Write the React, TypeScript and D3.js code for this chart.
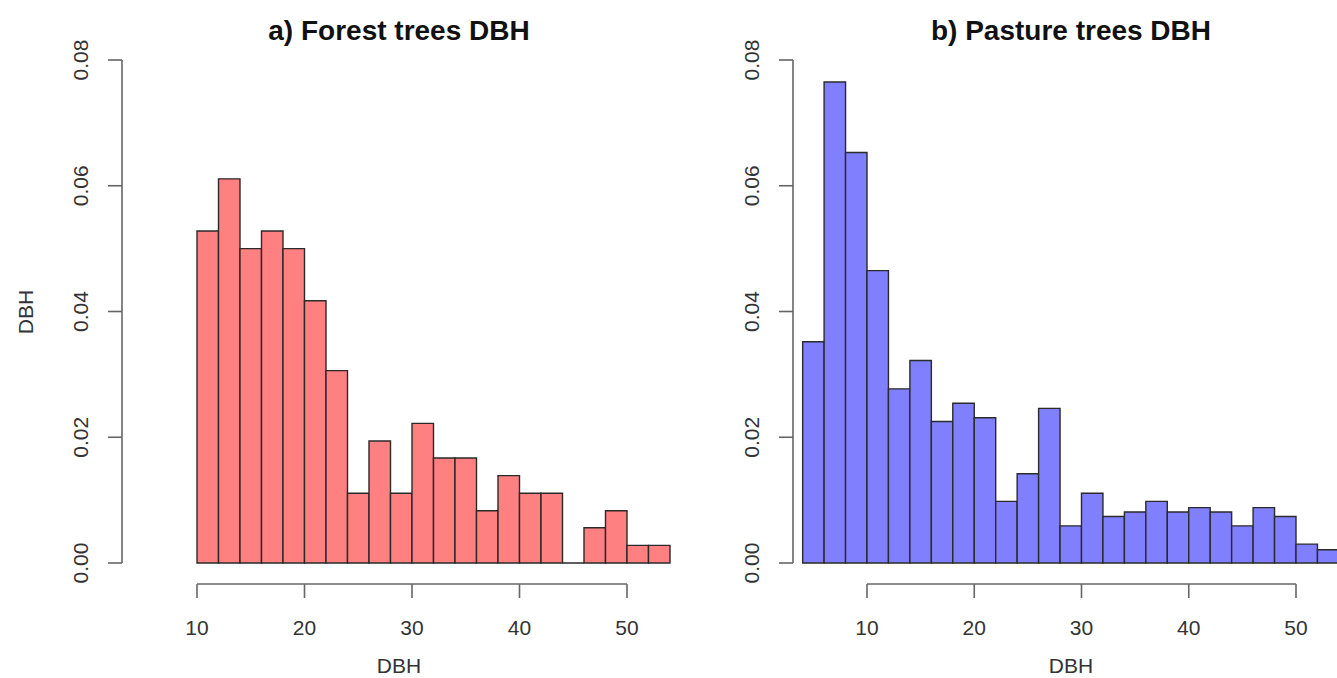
import React from "react";
import * as d3 from "d3";

// Histogram densities (bin width 2 cm DBH)
const binWidth = 2;
const forestStart = 10;
const forestDensity = [
  0.0528, 0.0611, 0.05, 0.0528, 0.05, 0.0417, 0.0306, 0.0111, 0.0194, 0.0111, 0.0222,
  0.0167, 0.0167, 0.0083, 0.0139, 0.0111, 0.0111, 0, 0.0056, 0.0083, 0.0028, 0.0028,
];
const pastureStart = 4;
const pastureDensity = [
  0.0352, 0.0765, 0.0653, 0.0465, 0.0277, 0.0322, 0.0225, 0.0254, 0.0231, 0.0098, 0.0142,
  0.0246, 0.0059, 0.0111, 0.0074, 0.0081, 0.0098, 0.0081, 0.0088, 0.0081, 0.0059, 0.0088,
  0.0074, 0.003, 0.0021,
];
const xTicks = [10, 20, 30, 40, 50];
const yTicks = [0, 0.02, 0.04, 0.06, 0.08];

const W = 1337;
const H = 678;
const FONT = "'Liberation Sans', Arial, Helvetica, sans-serif";

type PanelProps = {
  title: string;
  start: number;
  density: number[];
  fill: string;
  yAxisX: number;
  xRange: [number, number];
  titleX: number;
  showYLabel: boolean;
};

function Panel({ title, start, density, fill, yAxisX, xRange, titleX, showYLabel }: PanelProps) {
  const x = d3.scaleLinear().domain([10, 50]).range(xRange);
  const y = d3.scaleLinear().domain([0, 0.08]).range([563, 60]);
  const axisY = 584;
  const axisColor = "#666";
  const textColor = "#333";

  const bars = density.map((d, i) => {
    const x0 = x(start + i * binWidth);
    const x1 = x(start + (i + 1) * binWidth);
    const y0 = y(0);
    const y1 = y(d);
    return `M${x0},${y0}V${y1}H${x1}V${y0}Z`;
  });

  return (
    <g>
      <text
        x={titleX}
        y={40}
        textAnchor="middle"
        fontFamily={FONT}
        fontWeight="bold"
        fontSize={28}
        fill="#111"
      >
        {title}
      </text>

      {bars.map((p, i) => (
        <path key={i} d={p} fill={fill} stroke="#2a2a2a" strokeWidth={1.4} />
      ))}

      {/* y axis */}
      <line x1={yAxisX} x2={yAxisX} y1={y(0)} y2={y(0.08)} stroke={axisColor} strokeWidth={1.6} />
      {yTicks.map((t) => (
        <g key={t}>
          <line x1={yAxisX - 14} x2={yAxisX} y1={y(t)} y2={y(t)} stroke={axisColor} strokeWidth={1.6} />
          <text
            transform={`translate(${yAxisX - 42},${y(t)}) rotate(-90)`}
            textAnchor="middle"
            dominantBaseline="central"
            fontFamily={FONT}
            fontSize={21}
            fill={textColor}
          >
            {t.toFixed(2)}
          </text>
        </g>
      ))}

      {/* x axis */}
      <line x1={x(10)} x2={x(50)} y1={axisY} y2={axisY} stroke={axisColor} strokeWidth={1.6} />
      {xTicks.map((t) => (
        <g key={t}>
          <line x1={x(t)} x2={x(t)} y1={axisY} y2={axisY + 14} stroke={axisColor} strokeWidth={1.6} />
          <text
            x={x(t)}
            y={627}
            textAnchor="middle"
            dominantBaseline="central"
            fontFamily={FONT}
            fontSize={21}
            fill={textColor}
          >
            {t}
          </text>
        </g>
      ))}

      <text
        x={titleX}
        y={665}
        textAnchor="middle"
        dominantBaseline="central"
        fontFamily={FONT}
        fontSize={21}
        fill={textColor}
      >
        DBH
      </text>

      {showYLabel && (
        <text
          transform={`translate(25,312) rotate(-90)`}
          textAnchor="middle"
          dominantBaseline="central"
          fontFamily={FONT}
          fontSize={21}
          fill={textColor}
        >
          DBH
        </text>
      )}
    </g>
  );
}

export default function App() {
  return (
    <div style={{ position: "absolute", left: 0, top: 0 }}>
      <svg width={W} height={H} style={{ display: "block", background: "#fff" }}>
        <rect width={W} height={H} fill="#fff" />
        <Panel
          title="a) Forest trees DBH"
          start={forestStart}
          density={forestDensity}
          fill="#FF8080"
          yAxisX={122}
          xRange={[197, 627]}
          titleX={399}
          showYLabel={true}
        />
        <Panel
          title="b) Pasture trees DBH"
          start={pastureStart}
          density={pastureDensity}
          fill="#8080FF"
          yAxisX={793}
          xRange={[867, 1296]}
          titleX={1071}
          showYLabel={false}
        />
      </svg>
    </div>
  );
}
